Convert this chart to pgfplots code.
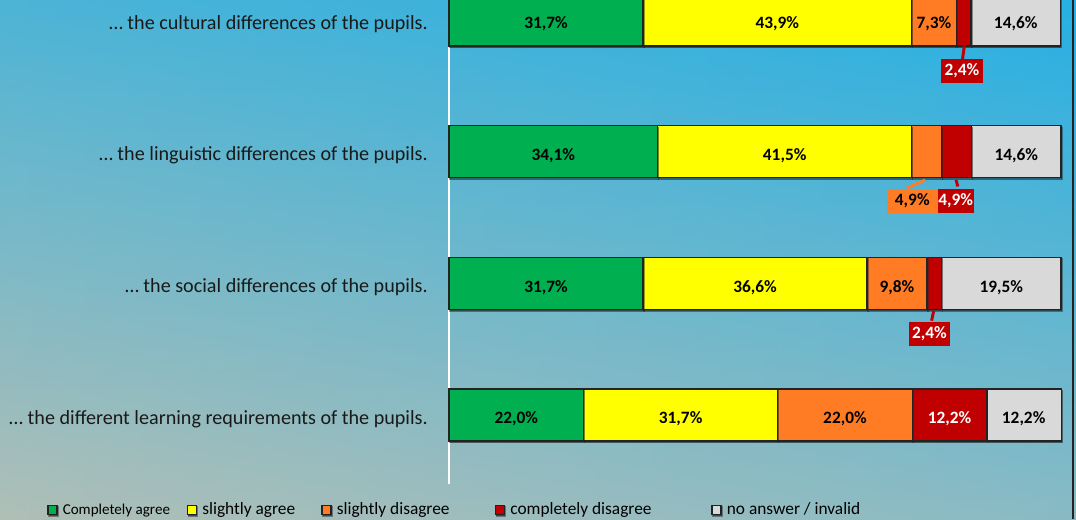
\documentclass[border=0pt]{standalone}
\usepackage{fontspec}
\setmainfont{Carlito}
\usepackage{pgfplots}
\pgfplotsset{compat=1.18}
\usetikzlibrary{shadows}

\definecolor{cGreen}{RGB}{0,176,80}
\definecolor{cYellow}{RGB}{255,255,0}
\definecolor{cOrange}{RGB}{255,124,36}
\definecolor{cRed}{RGB}{192,0,0}
\definecolor{cGray}{RGB}{217,217,217}
\definecolor{bgTop}{RGB}{38,176,228}
\definecolor{bgMid}{RGB}{92,180,210}
\definecolor{bgBot}{RGB}{165,190,188}
\definecolor{bgWarm}{RGB}{215,195,165}
\definecolor{edge}{RGB}{35,35,35}

\pgfplotsset{
  sqlegend/.style={legend image code/.code={\draw[##1, draw=edge, line width=1.1pt] (0pt,-3.4pt) rectangle (6.8pt,3.4pt);}},
  samebox/.style={at={(336.75pt,26.625pt)}, anchor=south west, scale only axis,
    width=459pt, height=367.5pt, xmin=0, xmax=100, ymin=-0.52, ymax=3.2, clip=false},
  lbl/.style={forget plot, draw=none, mark=none, nodes near coords, point meta=explicit symbolic,
    every node near coord/.append style={anchor=center, font=\fontsize{13}{15}\selectfont\bfseries}},
  seg/.style={fill=#1, draw=edge, line width=1.1pt, sqlegend,
    drop shadow={shadow xshift=0.6pt, shadow yshift=-1.3pt, opacity=0.45, fill=black}},
}

\begin{document}
\begin{tikzpicture}
\useasboundingbox (0,0) rectangle (807pt,389.25pt);
\clip (0,0) rectangle (807pt,389.25pt);
\shade[top color=bgTop, middle color=bgMid, bottom color=bgBot] (0,0) rectangle (807pt,389.25pt);
\shade[left color=bgWarm, right color=bgTop, opacity=0.22] (0,0) rectangle (807pt,389.25pt);
\draw[edge, line width=1.1pt] (804.75pt,0) -- (804.75pt,389.25pt);

% bars
\begin{axis}[samebox,
  xbar stacked, bar width=39pt,
  axis x line=none, axis y line*=left,
  y axis line style={white, line width=0.8pt},
  ytick={0,1,2,3}, major tick length=0pt,
  yticklabels={%
    … the different learning requirements of the pupils.,
    … the social differences of the pupils.,
    … the linguistic differences of the pupils.,
    … the cultural differences of the pupils.},
  yticklabel style={font=\fontsize{15.1}{17}\selectfont, inner sep=0pt, xshift=-15.75pt, yshift=-3pt, text=black!90},
  legend columns=5, legend cell align=left,
  legend style={at={(-0.6569,-0.054)}, anchor=west, draw=none, fill=none, inner sep=0pt,
    nodes={inner sep=0pt}, font=\fontsize{13}{15}\selectfont,
    /tikz/every odd column/.append style={column sep=3.75pt}},
]
\addplot[seg=cGreen] coordinates {(22.0,0) (31.7,1) (34.1,2) (31.7,3)};
\addplot[seg=cYellow] coordinates {(31.7,0) (36.6,1) (41.5,2) (43.9,3)};
\addplot[seg=cOrange] coordinates {(22.0,0) (9.8,1) (4.9,2) (7.3,3)};
\addplot[seg=cRed] coordinates {(12.2,0) (2.4,1) (4.9,2) (2.4,3)};
\addplot[seg=cGray] coordinates {(12.2,0) (19.5,1) (14.6,2) (14.6,3)};
\addlegendentry{\fontsize{11.3}{13}\selectfont\makebox[93pt][l]{Completely agree}}
\addlegendentry{\makebox[89.25pt][l]{slightly agree}}
\addlegendentry{\makebox[118.5pt][l]{slightly disagree}}
\addlegendentry{\makebox[150.75pt][l]{completely disagree}}
\addlegendentry{no answer / invalid}
\end{axis}

% value labels and callouts
\begin{axis}[samebox, hide axis]
\addplot[lbl, every node near coord/.append style={yshift=-3pt}] coordinates {
  (11.0,0) [22,0\%] (37.85,0) [31,7\%] (64.7,0) [22,0\%] (93.9,0) [12,2\%]
  (15.85,1) [31,7\%] (50.0,1) [36,6\%] (73.2,1) [9,8\%] (90.25,1) [19,5\%]
  (17.05,2) [34,1\%] (54.85,2) [41,5\%] (92.7,2) [14,6\%]
  (15.85,3) [31,7\%] (53.65,3) [43,9\%] (79.25,3) [7,3\%] (92.6,3) [14,6\%]};
\addplot[lbl, every node near coord/.append style={text=white, yshift=-3pt}] coordinates {(81.8,0) [12,2\%]};
% leader lines
\addplot[forget plot, cRed, line width=2.2pt] coordinates {(84.2,2.80) (83.9,2.70)};
\addplot[forget plot, cRed, line width=2.2pt] coordinates {(82.85,1.784) (83.15,1.735)};
\addplot[forget plot, cOrange, line width=2.2pt] coordinates {(77.8,1.784) (74.8,1.722)};
\addplot[forget plot, cRed, line width=2.2pt] coordinates {(79.2,0.79) (78.85,0.716)};
% callout boxes
\addplot[lbl, every node near coord/.append style={text=white, fill=cRed, inner xsep=2.5pt, minimum height=15.5pt}]
  coordinates {(83.8,2.612) [2,4\%] (78.5,0.615) [2,4\%]};
\addplot[lbl, every node near coord/.append style={text=white, fill=cRed, inner xsep=1pt, minimum height=15.5pt}]
  coordinates {(82.8,1.625) [4,9\%]};
\addplot[lbl, every node near coord/.append style={text=black, fill=cOrange, minimum width=38pt, minimum height=15.5pt}]
  coordinates {(75.7,1.625) [4,9\%]};
\end{axis}
\end{tikzpicture}
\end{document}
